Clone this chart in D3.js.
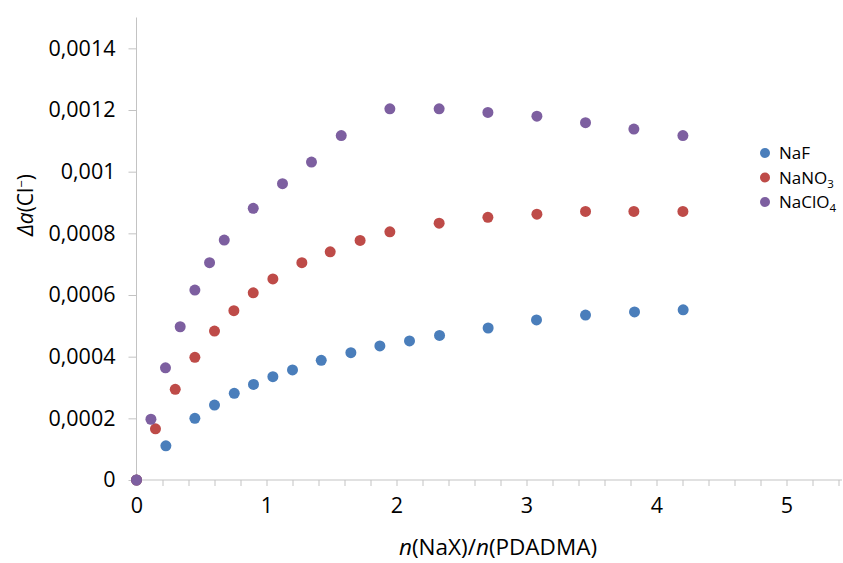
<!DOCTYPE html>
<html><head><meta charset="utf-8">
<script src="https://cdn.jsdelivr.net/npm/d3@7"></script>
<style>
body{margin:0;background:#fff;}
svg{display:block;font-family:"Open Sans", Lato, sans-serif;}
</style></head>
<body>
<svg id="chart" width="843" height="563"></svg>
<script>
const seriesNames = ["NaF", "NaNO3", "NaClO4"];
const seriesColors = ["#4a7ebb", "#be4b48", "#7d5fa0"];

const nafX = [0, 0.226, 0.449, 0.6, 0.752, 0.9, 1.049, 1.2, 1.421, 1.649, 1.872, 2.1, 2.331, 2.705, 3.077, 3.454, 3.831, 4.205];
const nafY = [0, 0.000111, 0.0002, 0.000243, 0.000281, 0.00031, 0.000335, 0.000357, 0.000388, 0.000413, 0.000435, 0.000451, 0.000469, 0.000493, 0.000519, 0.000535, 0.000545, 0.000552];

const nano3X = [0, 0.146, 0.298, 0.449, 0.6, 0.749, 0.898, 1.049, 1.272, 1.49, 1.72, 1.949, 2.328, 2.703, 3.08, 3.454, 3.826, 4.203];
const nano3Y = [0, 0.000166, 0.000294, 0.000398, 0.000483, 0.000549, 0.000607, 0.000652, 0.000705, 0.00074, 0.000777, 0.000805, 0.000833, 0.000852, 0.000862, 0.000871, 0.000871, 0.000871];

const naclo4X = [0, 0.111, 0.223, 0.336, 0.449, 0.562, 0.675, 0.898, 1.123, 1.346, 1.575, 1.949, 2.328, 2.703, 3.08, 3.454, 3.826, 4.203];
const naclo4Y = [0, 0.000197, 0.000364, 0.000497, 0.000616, 0.000705, 0.000778, 0.000881, 0.000961, 0.001031, 0.001117, 0.001204, 0.001204, 0.001192, 0.00118, 0.001159, 0.001138, 0.001117];

const xMajorTicks = [0, 1, 2, 3, 4, 5];
const xMinorTicks = [0.2,0.4,0.6,0.8,1.2,1.4,1.6,1.8,2.2,2.4,2.6,2.8,3.2,3.4,3.6,3.8,4.2,4.4,4.6,4.8,5.2,5.4];
const yTicks = [0, 0.0002, 0.0004, 0.0006, 0.0008, 0.001, 0.0012, 0.0014];
const yTickLabels = ["0", "0,0002", "0,0004", "0,0006", "0,0008", "0,001", "0,0012", "0,0014"];

const series = [
  {name: seriesNames[0], color: seriesColors[0], xs: nafX, ys: nafY},
  {name: seriesNames[1], color: seriesColors[1], xs: nano3X, ys: nano3Y},
  {name: seriesNames[2], color: seriesColors[2], xs: naclo4X, ys: naclo4Y}
];

const svg = d3.select("#chart");
const x = d3.scaleLinear().domain([0, 5.4]).range([136.5, 838.5]);
const y = d3.scaleLinear().domain([0, 0.0015]).range([480, 17.5]);
const axisColor = "#c3c3c3";
const FONT = "'Open Sans'";

// Y axis
const yAxis = d3.axisLeft(y).tickValues(yTicks).tickSize(8).tickPadding(13)
  .tickFormat((d,i) => yTickLabels[i]);
const gy = svg.append("g").attr("transform", `translate(${x(0)},0)`).call(yAxis);
gy.select(".domain").attr("stroke", axisColor).attr("d", `M-0,${y(0)}V${y(0.0015)}`);
gy.selectAll(".tick line").attr("stroke", axisColor);
gy.selectAll(".tick text").attr("fill", "#000").style("font-size", "21.5px").style("font-family", FONT);

// X axis minor
const gxm = svg.append("g").attr("transform", `translate(0,${y(0)})`)
  .call(d3.axisBottom(x).tickValues(xMinorTicks).tickSize(6).tickFormat(""));
gxm.select(".domain").remove();
gxm.selectAll(".tick line").attr("stroke", axisColor);

const gx = svg.append("g").attr("transform", `translate(0,${y(0)})`)
  .call(d3.axisBottom(x).tickValues(xMajorTicks).tickSize(6).tickPadding(12).tickFormat(d3.format("d")));
gx.select(".domain").attr("stroke", axisColor).attr("d", `M${x(0)},0H842`);
gx.selectAll(".tick line").attr("stroke", axisColor);
gx.selectAll(".tick text").attr("fill", "#000").style("font-size", "21.5px").style("font-family", FONT);

// Points
series.forEach(s => {
  svg.append("g").selectAll("circle").data(s.xs.map((v,i)=>[v, s.ys[i]])).join("circle")
    .attr("cx", d => x(d[0])).attr("cy", d => y(d[1])).attr("r", 5.5)
    .attr("fill", s.color);
});

// Axis titles
const xt = svg.append("text").attr("x", 498).attr("y", 555).attr("text-anchor", "middle")
  .style("font-size", "22.5px").attr("fill", "#000");
xt.append("tspan").attr("font-style", "italic").text("n");
xt.append("tspan").text("(NaX)/");
xt.append("tspan").attr("font-style", "italic").text("n");
xt.append("tspan").text("(PDADMA)");

const yt = svg.append("text").attr("transform", "translate(33,205) rotate(-90)").attr("text-anchor", "middle")
  .style("font-size", "21px").attr("fill", "#000");
yt.append("tspan").attr("font-style", "italic").text("Δa");
yt.append("tspan").text("(Cl");
yt.append("tspan").attr("dy", -7).style("font-size", "13px").text("−");
yt.append("tspan").attr("dy", 7).text(")");

// Legend
const legendLabels = [["NaF", ""], ["NaNO", "3"], ["NaClO", "4"]];
series.forEach((s, i) => {
  const ly = 153 + i * 24.5;
  svg.append("circle").attr("cx", 765).attr("cy", ly).attr("r", 5).attr("fill", s.color);
  const t = svg.append("text").attr("x", 779).attr("y", ly + 6).style("font-size", "17px").attr("fill", "#000");
  t.append("tspan").text(legendLabels[i][0]);
  if (legendLabels[i][1]) t.append("tspan").attr("dy", 4).style("font-size", "11.5px").text(legendLabels[i][1]);
});
</script>
</body></html>
